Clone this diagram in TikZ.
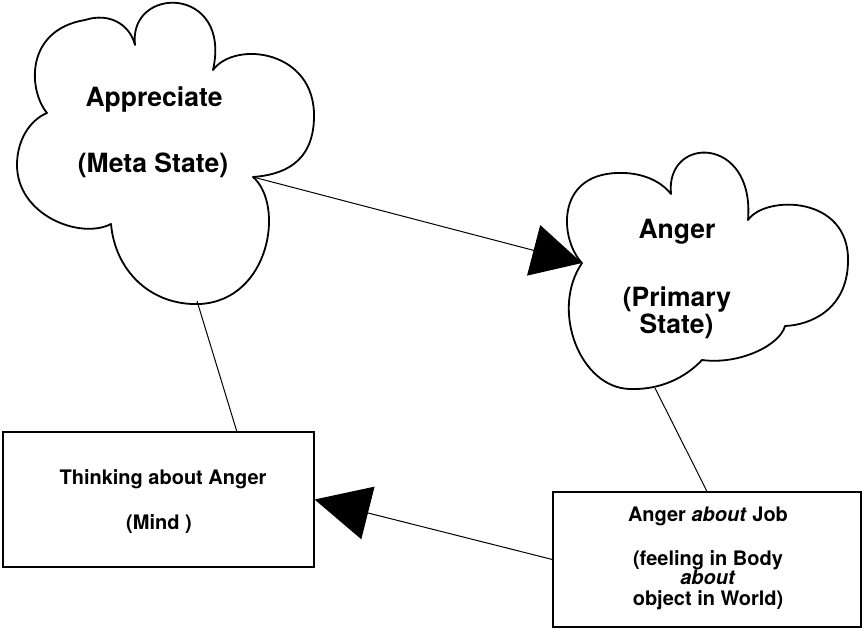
\documentclass[tikz,border=0pt]{standalone}
\usepackage{fontspec}
\setmainfont{TeX Gyre Heros}
\usetikzlibrary{arrows.meta}
\begin{document}
\begin{tikzpicture}[x=1pt,y=-1pt,
  cloud/.style={draw=black, line width=1.8pt, line join=round},
  box/.style={draw=black, line width=1.2pt, minimum width=311pt, minimum height=135pt, inner sep=0pt},
  conn/.style={draw=black, line width=1pt},
  bigtip/.style={-{Triangle[length=50pt,width=52pt]}},
  bigtipb/.style={-{Triangle[length=55pt,width=54pt]}},
  cloudtext/.style={font=\bfseries\fontsize{26.5}{30}\selectfont, inner sep=0pt, anchor=base},
  boxtext/.style={font=\bfseries\fontsize{20}{24}\selectfont, inner sep=0pt, anchor=base}]
\useasboundingbox (0,0) rectangle (862,629);

% Appreciate cloud
\draw[cloud] (135,45) .. controls (128,-15) and (232,-15) .. (213,70)
  .. controls (235,40) and (316,50) .. (314,118)
  .. controls (313,165) and (280,175) .. (253,177)
  .. controls (285,205) and (270,300) .. (200,304)
  .. controls (150,306) and (115,270) .. (111,224)
  .. controls (80,240) and (17,215) .. (17,165)
  .. controls (17,140) and (30,120) .. (47,113)
  .. controls (28,90) and (25,30) .. (85,20)
  .. controls (110,12) and (130,25) .. cycle;

% Anger cloud
\draw[cloud] (582,263) .. controls (560,240) and (555,175) .. (617,173)
  .. controls (640,172) and (660,180) .. (671,194)
  .. controls (665,135) and (755,135) .. (748,220)
  .. controls (765,195) and (850,195) .. (848,262)
  .. controls (847,310) and (810,325) .. (785,326)
  .. controls (780,345) and (740,365) .. (702,360)
  .. controls (685,378) and (660,390) .. (630,389)
  .. controls (580,388) and (550,310) .. cycle;

\coordinate (apnotch) at (253,177);
\coordinate (annotch) at (582,263);
\coordinate (apbottom) at (197,301);
\coordinate (anbottom) at (655,388);
\coordinate (lboxtop) at (237,432);

\node[box] (lbox) at (158.5,499.5) {};
\node[box, minimum width=308pt] (rbox) at (707,559.5) {};

\draw[conn, bigtip] (apnotch) -- (annotch);
\draw[conn, bigtipb] (rbox.west) -- (lbox.east);
\draw[conn] (apbottom) -- (lboxtop);
\draw[conn] (anbottom) -- (rbox.north);

\node[cloudtext] (ap1) at (154,106) {Appreciate};
\node[cloudtext] (ap2) at (153,172) {(Meta State)};
\node[cloudtext] (an1) at (677,238) {Anger};
\node[cloudtext] (an2) at (677,306) {(Primary};
\node[cloudtext] (an3) at (676.5,333) {State)};
\node[boxtext] (lb1) at (163,484) {Thinking about Anger};
\node[boxtext] (lb2) at (159,529) {(Mind )};
\node[boxtext] (rb1) at (708,521) {Anger \textit{about} Job};
\node[boxtext] (rb2) at (708,565.5) {(feeling in Body};
\node[boxtext] (rb3) at (708,584) {\textit{about}};
\node[boxtext] (rb4) at (708,605) {object in World)};
\end{tikzpicture}
\end{document}
